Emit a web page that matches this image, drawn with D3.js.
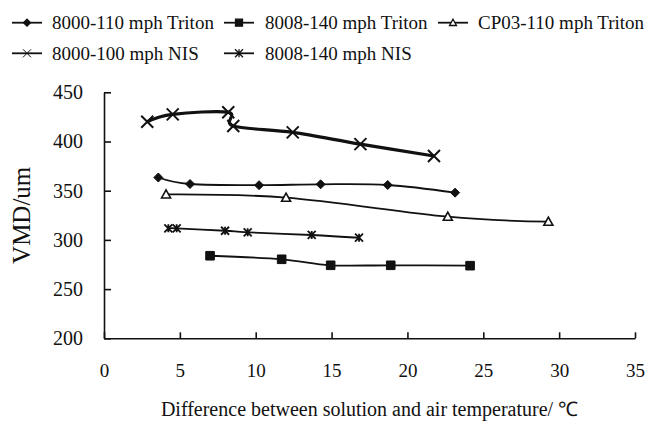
<!DOCTYPE html>
<html><head><meta charset="utf-8">
<script src="https://cdn.jsdelivr.net/npm/d3@7/dist/d3.min.js"></script>
<style>
html,body{margin:0;padding:0;background:#fff;}
svg{display:block;}
text{font-family:"Liberation Serif","Times New Roman",serif;fill:#111;}
</style></head>
<body>
<svg id="chart" width="648" height="421"></svg>
<script>
// ---- data ----
const xTicks = [0, 5, 10, 15, 20, 25, 30, 35];
const yTicks = [200, 250, 300, 350, 400, 450];
const seriesNames = ["8000-110 mph Triton", "8008-140 mph Triton", "CP03-110 mph Triton", "8000-100 mph NIS", "8008-140 mph NIS"];
const s1x = [3.58, 5.67, 10.22, 14.28, 18.70, 23.14];
const s1y = [363.4, 356.8, 355.6, 356.5, 355.8, 348.0];
const s2x = [6.99, 11.71, 14.94, 18.90, 24.13];
const s2y = [283.9, 280.3, 274.2, 274.2, 273.8];
const s3x = [4.09, 12.0, 22.66, 29.29];
const s3y = [346.3, 342.9, 323.6, 318.5];
const s4x = [2.85, 4.53, 8.19, 8.52, 12.44, 16.9, 21.75];
const s4y = [420.1, 427.6, 429.7, 415.8, 409.3, 397.3, 385.3];
const s5x = [4.24, 4.79, 7.98, 9.47, 13.69, 16.81];
const s5y = [311.8, 311.8, 309.3, 307.7, 305.0, 302.2];
const xTitle = "Difference between solution and air temperature/ \u2103";
const yTitle = "VMD/um";

// ---- layout ----
const svg = d3.select("#chart");
const x = d3.scaleLinear().domain([0, 35]).range([104, 635]);
const y = d3.scaleLinear().domain([200, 450]).range([338.3, 92.3]);
const ink = "#111";

// marker path generators (half-size r)
const markers = {
  diamond: r => `M0,${-r}L${r},0L0,${r}L${-r},0Z`,
  square: r => `M${-r},${-r}H${r}V${r}H${-r}Z`,
  triangle: r => `M0,${-r}L${r*1.0},${r*0.8}L${-r*1.0},${r*0.8}Z`,
  cross: r => `M${-r},${-r}L${r},${r}M${r},${-r}L${-r},${r}`,
  star: r => `M${-r},${-r}L${r},${r}M${r},${-r}L${-r},${r}M0,${-r}V${r}`
};

const series = [
  {name: seriesNames[0], xs: s1x, ys: s1y, m: "diamond", r: 4.5, fill: ink, lw: 1.8, mw: 1, lr: 3.5},
  {name: seriesNames[1], xs: s2x, ys: s2y, m: "square", r: 4.3, fill: ink, lw: 1.8, mw: 1, lr: 3.5},
  {name: seriesNames[2], xs: s3x, ys: s3y, m: "triangle", r: 4.5, fill: "#fff", lw: 1.8, mw: 1.6, lr: 3.5},
  {name: seriesNames[3], xs: s4x, ys: s4y, m: "cross", r: 6, fill: "none", lw: 3.2, mw: 2, lr: 4},
  {name: seriesNames[4], xs: s5x, ys: s5y, m: "star", r: 4, fill: "none", lw: 1.8, mw: 1.8, lr: 4}
];

// ---- axes ----
const gx = svg.append("g").attr("transform", `translate(0,${y(200)})`)
  .call(d3.axisBottom(x).tickValues(xTicks).tickSizeInner(-6).tickSizeOuter(0).tickPadding(25));
const gy = svg.append("g").attr("transform", `translate(${x(0)},0)`)
  .call(d3.axisLeft(y).tickValues(yTicks).tickSizeInner(-7).tickSizeOuter(0).tickPadding(21));
[gx, gy].forEach(g => {
  g.attr("font-family", null);
  g.select(".domain").attr("stroke", ink).attr("stroke-width", 1.6);
  g.selectAll(".tick line").attr("stroke", ink).attr("stroke-width", 1.6);
  g.selectAll("text").attr("fill", ink).style("font-family", "'Liberation Serif', serif");
});
gx.selectAll("text").style("font-size", "19px");
gy.selectAll("text").style("font-size", "20px");

// ---- titles ----
svg.append("text").attr("x", (x(0) + x(35)) / 2).attr("y", 416).attr("text-anchor", "middle")
  .style("font-size", "20px").text(xTitle);
svg.append("text").attr("transform", `translate(21,${(y(200) + y(450)) / 2}) rotate(-90)`)
  .attr("text-anchor", "middle").attr("dy", "0.35em").style("font-size", "25px").text(yTitle);

// ---- lines & markers ----
const line = d3.line().x(d => x(d[0])).y(d => y(d[1])).curve(d3.curveCardinal.tension(0));
series.forEach(s => {
  const pts = s.xs.map((v, i) => [v, s.ys[i]]);
  svg.append("path").datum(pts).attr("d", line).attr("fill", "none")
    .attr("stroke", ink).attr("stroke-width", s.lw).attr("stroke-linejoin", "round");
  svg.append("g").selectAll("path").data(pts).join("path")
    .attr("transform", d => `translate(${x(d[0])},${y(d[1])})`)
    .attr("d", markers[s.m](s.r))
    .attr("fill", s.fill).attr("stroke", ink).attr("stroke-width", s.mw);
});

// ---- legend ----
const legendPos = [
  {lx: 12, tx: 52, cy: 22.7},
  {lx: 224, tx: 265, cy: 22.7},
  {lx: 438, tx: 478, cy: 22.7},
  {lx: 12, tx: 52, cy: 53.3},
  {lx: 224, tx: 265, cy: 53.3}
];
series.forEach((s, i) => {
  const p = legendPos[i];
  const g = svg.append("g");
  g.append("line").attr("x1", p.lx).attr("x2", p.lx + 30).attr("y1", p.cy).attr("y2", p.cy)
    .attr("stroke", ink).attr("stroke-width", 1.8);
  g.append("path").attr("transform", `translate(${p.lx + 15},${p.cy})`)
    .attr("d", markers[s.m](s.lr)).attr("fill", s.fill).attr("stroke", ink)
    .attr("stroke-width", s.m === "cross" ? 1 : 1.3);
  g.append("text").attr("x", p.tx).attr("y", p.cy).attr("dy", "0.35em")
    .style("font-size", "19px").text(s.name);
});
</script>
</body></html>
